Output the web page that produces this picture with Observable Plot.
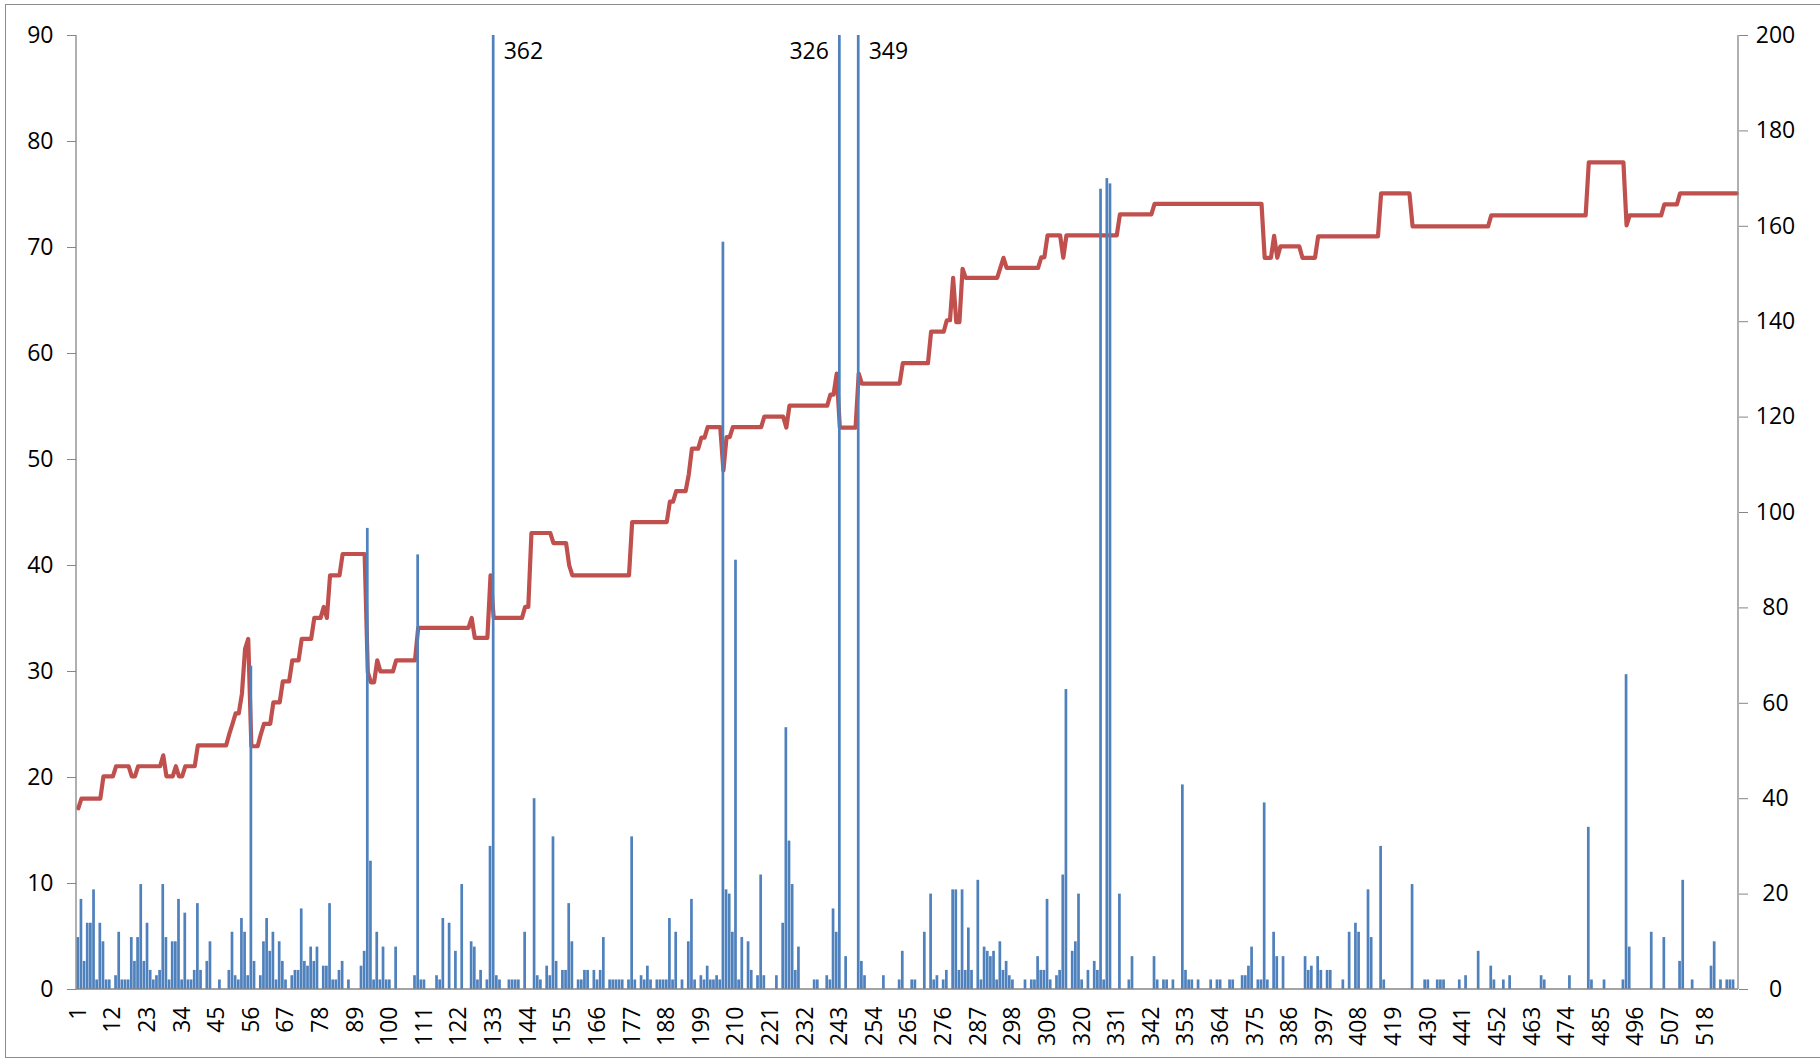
<!DOCTYPE html>
<html>
<head>
<meta charset="utf-8">
<script src="https://cdn.jsdelivr.net/npm/d3@7"></script>
<script src="https://cdn.jsdelivr.net/npm/@observablehq/plot@0.6"></script>
<style>
  html, body { margin: 0; padding: 0; background: #fff; }
  #wrap { position: relative; width: 1820px; height: 1061px; overflow: hidden; }
  #border { position: absolute; left: 5px; top: 4px; width: 1830px; height: 1054px; border: 1px solid #8c8c8c; box-sizing: border-box; pointer-events: none; }
</style>
</head>
<body>
<div id="wrap"><div id="border"></div><div id="chart"></div></div>
<script>
// Category axis tick labels (every 11th category)
const tickLabels = [1, 12, 23, 34, 45, 56, 67, 78, 89, 100, 111, 122, 133, 144, 155, 166, 177, 188, 199, 210, 221, 232, 243, 254, 265, 276, 287, 298, 309, 320, 331, 342, 353, 364, 375, 386, 397, 408, 419, 430, 441, 452, 463, 474, 485, 496, 507, 518];

// Left-axis tick values and right-axis tick values
const leftTicks = [0, 10, 20, 30, 40, 50, 60, 70, 80, 90];
const rightTicks = [0, 20, 40, 60, 80, 100, 120, 140, 160, 180, 200];
const leftMax = 90;
const rightMax = 200;

// Bar series (left axis), categories 1..528
const barValues = [
  4.9, 8.5, 2.65, 6.25, 6.25, 9.4, 0.9, 6.25, 4.5, 0.9, 0.9,
  0, 1.3, 5.4, 0.9, 0.9, 0.9, 4.9, 2.65, 4.9, 9.9, 2.65,
  6.25, 1.8, 0.9, 1.3, 1.8, 9.9, 4.9, 0.9, 4.5, 4.5, 8.5,
  0.9, 7.2, 0.9, 0.9, 1.8, 8.1, 1.8, 0, 2.65, 4.5, 0,
  0, 0.9, 0, 0, 1.8, 5.4, 1.3, 0.9, 6.7, 5.4, 1.3,
  30.5, 2.65, 0, 1.3, 4.5, 6.7, 3.6, 5.4, 0.9, 4.5, 2.65,
  0.9, 0, 1.3, 1.8, 1.8, 7.6, 2.65, 2.2, 4.0, 2.65, 4.0,
  0, 2.2, 2.2, 8.1, 0.9, 0.9, 1.8, 2.65, 0, 0.9, 0,
  0, 0, 2.2, 3.6, 43.5, 12.1, 0.9, 5.4, 0.9, 4.0, 0.9,
  0.9, 0, 4.0, 0, 0, 0, 0, 0, 1.3, 41, 0.9,
  0.9, 0, 0, 0, 1.3, 0.9, 6.7, 0, 6.25, 0, 3.6,
  0, 9.9, 0, 0, 4.5, 4.0, 0.9, 1.8, 0, 0.9, 13.5,
  362, 1.3, 0.9, 0, 0, 0.9, 0.9, 0.9, 0.9, 0, 5.4,
  0, 0, 18, 1.3, 0.9, 0, 2.2, 1.3, 14.4, 2.65, 0,
  1.8, 1.8, 8.1, 4.5, 0, 0.9, 0.9, 1.8, 1.8, 0, 1.8,
  0.9, 1.8, 4.9, 0, 0.9, 0.9, 0.9, 0.9, 0.9, 0, 0.9,
  14.4, 0.9, 0, 1.3, 0.9, 2.2, 0.9, 0, 0.9, 0.9, 0.9,
  0.9, 6.7, 0.9, 5.4, 0, 0.9, 0, 4.5, 8.5, 0.9, 0,
  1.3, 0.9, 2.2, 0.9, 0.9, 1.3, 0.9, 70.5, 9.4, 9.0, 5.4,
  40.5, 0.9, 4.9, 0, 4.5, 1.8, 0, 1.3, 10.8, 1.3, 0,
  0, 0, 1.3, 0, 6.25, 24.7, 14, 9.9, 1.8, 4.0, 0,
  0, 0, 0, 0.9, 0.9, 0, 0, 1.3, 0.9, 7.6, 5.4,
  326, 0, 3.1, 0, 0, 0, 349, 2.65, 1.3, 0, 0,
  0, 0, 0, 1.3, 0, 0, 0, 0, 0.9, 3.6, 0,
  0, 0.9, 0.9, 0, 0, 5.4, 0, 9.0, 0.9, 1.3, 0,
  0.9, 1.8, 0, 9.4, 9.4, 1.8, 9.4, 1.8, 5.8, 1.8, 0,
  10.3, 0.9, 4.0, 3.6, 3.1, 3.6, 0.9, 4.5, 1.8, 2.65, 1.3,
  0.9, 0, 0, 0, 0.9, 0, 0.9, 0.9, 3.1, 1.8, 1.8,
  8.5, 0.9, 0, 1.3, 1.8, 10.8, 28.3, 0, 3.6, 4.5, 9.0,
  0.9, 0, 1.8, 0, 2.65, 1.8, 75.5, 0.9, 76.5, 76, 0,
  0, 9.0, 0, 0, 0.9, 3.1, 0, 0, 0, 0, 0,
  0, 3.1, 0.9, 0, 0.9, 0.9, 0, 0.9, 0, 0, 19.3,
  1.8, 0.9, 0.9, 0, 0.9, 0, 0, 0, 0.9, 0, 0.9,
  0.9, 0, 0, 0.9, 0.9, 0, 0, 1.3, 1.3, 2.2, 4.0,
  0, 0.9, 0.9, 17.6, 0.9, 0, 5.4, 3.1, 0, 3.1, 0,
  0, 0, 0, 0, 0, 3.1, 1.8, 2.2, 0, 3.1, 1.8,
  0, 1.8, 1.8, 0, 0, 0, 0.9, 0, 5.4, 0, 6.25,
  5.4, 0, 0, 9.4, 4.9, 0, 0, 13.5, 0.9, 0, 0,
  0, 0, 0, 0, 0, 0, 9.9, 0, 0, 0, 0.9,
  0.9, 0, 0, 0.9, 0.9, 0.9, 0, 0, 0, 0, 0.9,
  0, 1.3, 0, 0, 0, 3.6, 0, 0, 0, 2.2, 0.9,
  0, 0, 0.9, 0, 1.3, 0, 0, 0, 0, 0, 0,
  0, 0, 0, 1.3, 0.9, 0, 0, 0, 0, 0, 0,
  0, 1.3, 0, 0, 0, 0, 0, 15.3, 0.9, 0, 0,
  0, 0.9, 0, 0, 0, 0, 0, 0.9, 29.7, 4.0, 0,
  0, 0, 0, 0, 0, 5.4, 0, 0, 0, 4.9, 0,
  0, 0, 0, 2.65, 10.3, 0, 0, 0.9, 0, 0, 0,
  0, 0, 2.2, 4.5, 0, 0.9, 0, 0.9, 0.9, 0.9, 0
];

// Line series (right axis), categories 1..528
const lineValues = [
  38, 40, 40, 40, 40, 40, 40, 40, 44.7, 44.7, 44.7,
  44.7, 46.8, 46.8, 46.8, 46.8, 46.8, 44.7, 44.7, 46.8, 46.8, 46.8,
  46.8, 46.8, 46.8, 46.8, 46.8, 49.1, 44.7, 44.7, 44.7, 46.8, 44.7,
  44.7, 46.8, 46.8, 46.8, 46.8, 51.2, 51.2, 51.2, 51.2, 51.2, 51.2,
  51.2, 51.2, 51.2, 51.2, 53.6, 55.7, 57.9, 57.9, 62, 71.4, 73.5,
  51, 51, 51, 53.5, 55.7, 55.7, 55.7, 60.2, 60.2, 60.2, 64.6,
  64.6, 64.6, 69, 69, 69, 73.5, 73.5, 73.5, 73.5, 77.9, 77.9,
  77.9, 80.2, 77.9, 86.8, 86.8, 86.8, 86.8, 91.3, 91.3, 91.3, 91.3,
  91.3, 91.3, 91.3, 91.3, 66.5, 64.4, 64.4, 69, 66.7, 66.7, 66.7,
  66.7, 66.7, 69, 69, 69, 69, 69, 69, 69, 75.8, 75.8,
  75.8, 75.8, 75.8, 75.8, 75.8, 75.8, 75.8, 75.8, 75.8, 75.8, 75.8,
  75.8, 75.8, 75.8, 75.8, 77.9, 73.7, 73.7, 73.7, 73.7, 73.7, 86.8,
  77.9, 77.9, 77.9, 77.9, 77.9, 77.9, 77.9, 77.9, 77.9, 77.9, 80.2,
  80.2, 95.7, 95.7, 95.7, 95.7, 95.7, 95.7, 95.7, 93.6, 93.6, 93.6,
  93.6, 93.6, 88.9, 86.8, 86.8, 86.8, 86.8, 86.8, 86.8, 86.8, 86.8,
  86.8, 86.8, 86.8, 86.8, 86.8, 86.8, 86.8, 86.8, 86.8, 86.8, 86.8,
  98, 98, 98, 98, 98, 98, 98, 98, 98, 98, 98,
  98, 102.3, 102.3, 104.5, 104.5, 104.5, 104.5, 108, 113.4, 113.4, 113.4,
  115.7, 115.7, 117.9, 117.9, 117.9, 117.9, 117.9, 108.8, 115.8, 115.8, 117.9,
  117.9, 117.9, 117.9, 117.9, 117.9, 117.9, 117.9, 117.9, 117.9, 120.1, 120.1,
  120.1, 120.1, 120.1, 120.1, 120.1, 117.8, 122.4, 122.4, 122.4, 122.4, 122.4,
  122.4, 122.4, 122.4, 122.4, 122.4, 122.4, 122.4, 122.4, 124.7, 124.7, 129.1,
  117.8, 117.8, 117.8, 117.8, 117.8, 117.8, 129.1, 127, 127, 127, 127,
  127, 127, 127, 127, 127, 127, 127, 127, 127, 131.3, 131.3,
  131.3, 131.3, 131.3, 131.3, 131.3, 131.3, 131.3, 137.9, 137.9, 137.9, 137.9,
  137.9, 140.3, 140.3, 149.2, 139.9, 139.9, 151.1, 149.2, 149.2, 149.2, 149.2,
  149.2, 149.2, 149.2, 149.2, 149.2, 149.2, 149.2, 151.3, 153.4, 151.3, 151.3,
  151.3, 151.3, 151.3, 151.3, 151.3, 151.3, 151.3, 151.3, 151.3, 153.5, 153.5,
  158.1, 158.1, 158.1, 158.1, 158.1, 153.4, 158.1, 158.1, 158.1, 158.1, 158.1,
  158.1, 158.1, 158.1, 158.1, 158.1, 158.1, 158.1, 158.1, 158.1, 158.1, 158.1,
  158.1, 162.5, 162.5, 162.5, 162.5, 162.5, 162.5, 162.5, 162.5, 162.5, 162.5,
  162.5, 164.7, 164.7, 164.7, 164.7, 164.7, 164.7, 164.7, 164.7, 164.7, 164.7,
  164.7, 164.7, 164.7, 164.7, 164.7, 164.7, 164.7, 164.7, 164.7, 164.7, 164.7,
  164.7, 164.7, 164.7, 164.7, 164.7, 164.7, 164.7, 164.7, 164.7, 164.7, 164.7,
  164.7, 164.7, 164.7, 153.4, 153.4, 153.4, 158, 153.4, 155.8, 155.8, 155.8,
  155.8, 155.8, 155.8, 155.8, 153.4, 153.4, 153.4, 153.4, 153.4, 157.9, 157.9,
  157.9, 157.9, 157.9, 157.9, 157.9, 157.9, 157.9, 157.9, 157.9, 157.9, 157.9,
  157.9, 157.9, 157.9, 157.9, 157.9, 157.9, 157.9, 166.9, 166.9, 166.9, 166.9,
  166.9, 166.9, 166.9, 166.9, 166.9, 166.9, 160, 160, 160, 160, 160,
  160, 160, 160, 160, 160, 160, 160, 160, 160, 160, 160,
  160, 160, 160, 160, 160, 160, 160, 160, 160, 162.3, 162.3,
  162.3, 162.3, 162.3, 162.3, 162.3, 162.3, 162.3, 162.3, 162.3, 162.3, 162.3,
  162.3, 162.3, 162.3, 162.3, 162.3, 162.3, 162.3, 162.3, 162.3, 162.3, 162.3,
  162.3, 162.3, 162.3, 162.3, 162.3, 162.3, 162.3, 173.4, 173.4, 173.4, 173.4,
  173.4, 173.4, 173.4, 173.4, 173.4, 173.4, 173.4, 173.4, 160.2, 162.3, 162.3,
  162.3, 162.3, 162.3, 162.3, 162.3, 162.3, 162.3, 162.3, 162.3, 164.6, 164.6,
  164.6, 164.6, 164.6, 166.9, 166.9, 166.9, 166.9, 166.9, 166.9, 166.9, 166.9,
  166.9, 166.9, 166.9, 166.9, 166.9, 166.9, 166.9, 166.9, 166.9, 166.9, 166.9
];

const categories = barValues.map((_, k) => k + 1);
const data = categories.map((c, k) => ({cat: c, bar: barValues[k], line: lineValues[k]}));
const ratio = leftMax / rightMax; // right-axis values expressed in left-axis units

// Bars that overflow the axis get a value label
const overflow = data.filter(d => d.bar > leftMax);
overflow.forEach(d => {
  d.left = overflow.some(o => o.cat > d.cat && o.cat - d.cat < 10);
});

const axisColor = "#868686";
const font = "'Open Sans', 'Liberation Sans', sans-serif";
const fs = 23;

const chart = Plot.plot({
  width: 1820,
  height: 1061,
  marginTop: 35,
  marginBottom: 72,
  marginLeft: 76,
  marginRight: 82,
  style: {fontFamily: font, fontSize: fs + "px", color: "#000", background: "transparent", overflow: "visible"},
  x: {type: "band", domain: categories, padding: 0.14, label: null},
  y: {domain: [0, leftMax], clamp: true, label: null},
  marks: [
    Plot.lineY(data, {x: "cat", y: d => d.line * ratio, stroke: "#C0504D", strokeWidth: 4.2, strokeLinejoin: "round", strokeLinecap: "round"}),
    Plot.barY(data, {x: "cat", y: "bar", fill: "#4F81BD"}),
    Plot.text(overflow.filter(d => !d.left), {x: "cat", y: "bar", text: d => String(d.bar), textAnchor: "start", dx: 10, dy: 16, fontSize: fs, fill: "#000"}),
    Plot.text(overflow.filter(d => d.left), {x: "cat", y: "bar", text: d => String(d.bar), textAnchor: "end", dx: -11, dy: 16, fontSize: fs, fill: "#000"}),
    // axis lines
    (index, scales, values, dims) => {
      const g = d3.create("svg:g").attr("stroke", axisColor).attr("stroke-width", 1.3);
      const x0 = dims.marginLeft, x1 = dims.width - dims.marginRight;
      const yb = scales.y(0), yt = scales.y(leftMax);
      g.append("line").attr("x1", x0).attr("x2", x0).attr("y1", yt).attr("y2", yb);
      g.append("line").attr("x1", x1).attr("x2", x1).attr("y1", yt).attr("y2", yb);
      g.append("line").attr("x1", x0).attr("x2", x1).attr("y1", yb).attr("y2", yb);
      return g.node();
    },
    Plot.axisY(leftTicks, {anchor: "left", tickSize: 9, tickPadding: 14, stroke: axisColor, fill: "#000", fontSize: fs, label: null}),
    Plot.axisY(rightTicks.map(v => v * ratio), {anchor: "right", tickSize: 9, tickPadding: 28, textAnchor: "middle", tickFormat: v => String(Math.round(v / ratio)), stroke: axisColor, fill: "#000", fontSize: fs, label: null}),
    Plot.axisX(tickLabels, {anchor: "bottom", tickSize: 0, tickPadding: 17, tickRotate: -90, fill: "#000", fontSize: fs, label: null})
  ]
});
document.getElementById("chart").appendChild(chart);
</script>
</body>
</html>
